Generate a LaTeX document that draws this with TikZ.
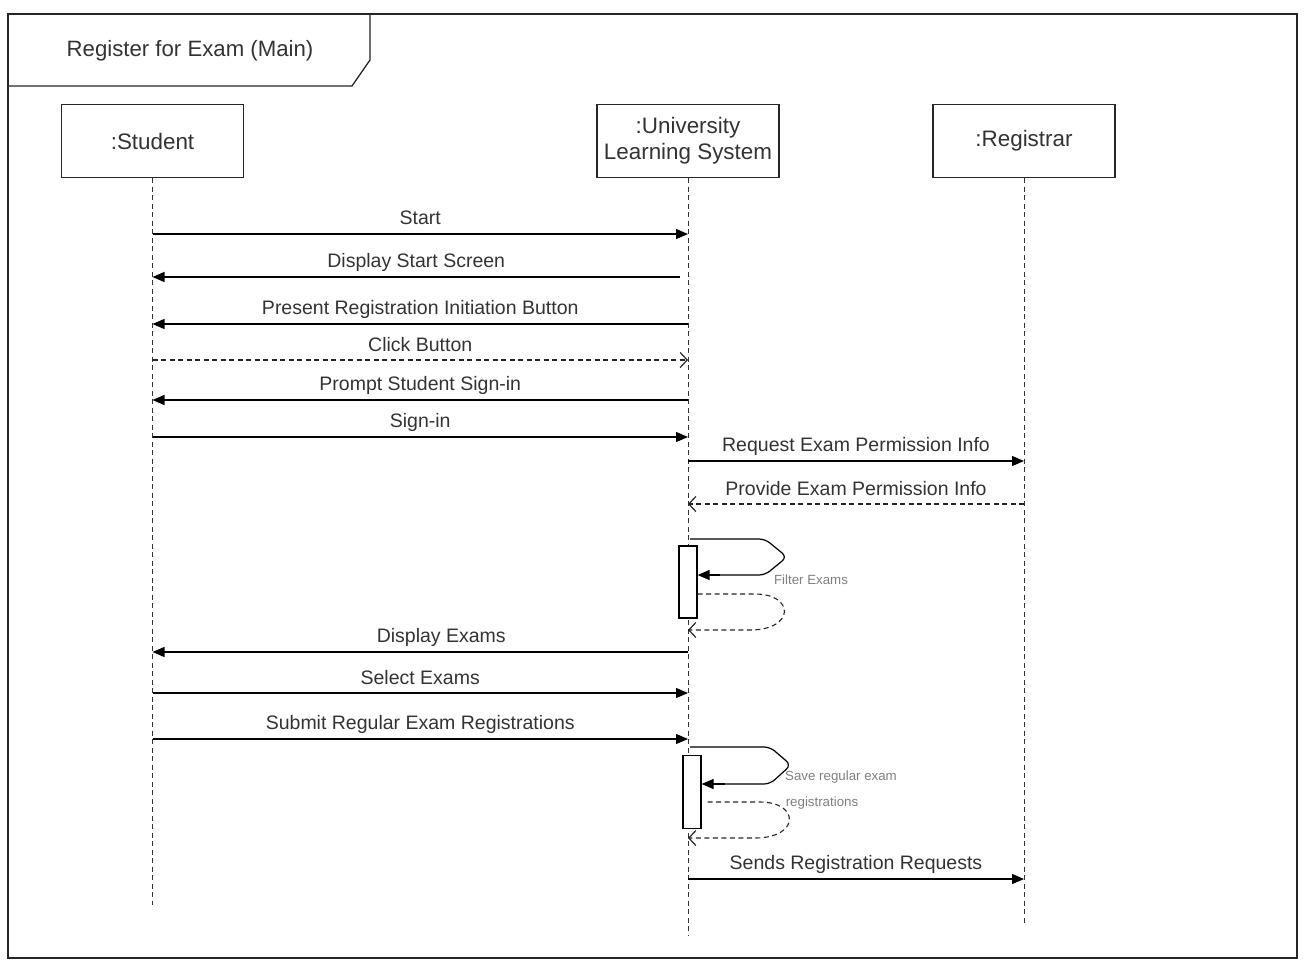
\documentclass[tikz,border=0pt]{standalone}
\usepackage{fontspec}
\setmainfont{Liberation Sans}
\usetikzlibrary{arrows.meta}
\definecolor{txt}{HTML}{333333}
\tikzset{
  lbl/.style={text=txt, font=\fontsize{19.5}{22}\selectfont, inner sep=0pt},
  small/.style={text=black!50, font=\fontsize{13.3}{15}\selectfont, inner sep=0pt},
  head/.style={draw=black!85, line width=1.3pt, minimum width=182pt, minimum height=73pt, text=txt, font=\fontsize{22.4}{26}\selectfont, align=center, inner sep=0pt},
  life/.style={draw=black!80, line width=1pt, dash pattern=on 5pt off 3.5pt},
  msg/.style={draw=black, line width=1.2pt, -{Triangle[length=12pt,width=10pt]}},
  ret/.style={draw=black!85, line width=1.1pt, dash pattern=on 5pt off 3.5pt, -{Straight Barb[length=7pt,width=15pt,line width=1.2pt]}},
  act/.style={draw=black, line width=1.2pt, fill=white},
}
\begin{document}
\begin{tikzpicture}[x=1pt,y=-1pt]
\useasboundingbox (0,0) rectangle (1312,967);
% frame
\draw[line width=1.5pt, draw=black!85] (8,14) rectangle (1297,958);
\draw[line width=1.3pt, draw=black!85] (8,86) -- (352,86) -- (370,60) -- (370,14);
\node[lbl, font=\fontsize{22.2}{26}\selectfont] (title) at (190,51) {Register for Exam (Main)};
% heads
\node[head] (st) at (152.5,141) {:Student};
\node[head] (uls) at (688,141) {:University\\Learning System};
\node[head] (reg) at (1024,141) {:Registrar};
% lifelines
\coordinate (stEnd) at (152.5,905);
\coordinate (ulsEnd) at (688,935);
\coordinate (regEnd) at (1024,925);
\draw[life] (st.south) -- (stEnd);
\draw[life] (uls.south) -- (ulsEnd);
\draw[life] (reg.south) -- (regEnd);
% messages
\draw[msg] (st |- 0,234) -- node[lbl, yshift=16pt] (m1) {Start} (uls |- 0,234);
\draw[msg] ([xshift=-8pt]uls |- 0,277) -- node[lbl, yshift=15pt] (m2) {Display Start Screen} (st |- 0,277);
\draw[msg] (uls |- 0,324) -- node[lbl, yshift=15pt] (m3) {Present Registration Initiation Button} (st |- 0,324);
\draw[ret] (st |- 0,360) -- node[lbl, yshift=15pt] (m4) {Click Button} (uls |- 0,360);
\draw[msg] (uls |- 0,400) -- node[lbl, yshift=15pt] (m5) {Prompt Student Sign-in} (st |- 0,400);
\draw[msg] (st |- 0,437) -- node[lbl, yshift=15pt] (m6) {Sign-in} (uls |- 0,437);
\draw[msg] (uls |- 0,461) -- node[lbl, yshift=15pt] (m7) {Request Exam Permission Info} (reg |- 0,461);
\draw[ret] (reg |- 0,504) -- node[lbl, yshift=15pt] (m8) {Provide Exam Permission Info} (uls |- 0,504);
% activation 1
\node[act, minimum width=18pt, minimum height=72pt, inner sep=0pt] (a1) at (688,582) {};
\coordinate (s1a) at (690,539);
\draw[line width=1.2pt, rounded corners=6pt] (s1a) -- (765,539) -- (787,557) -- (765,575) -- (720,575);
\draw[msg] (720,575) -- (a1.east |- 0,575);
\node[small] (f1) at (811,580) {Filter Exams};
\draw[ret] (a1.east |- 0,594) -- (755,594) .. controls (795,594) and (795,630) .. (750,630) -- (uls |- 0,630);
% messages
\draw[msg] (uls |- 0,652) -- node[lbl, yshift=15pt, xshift=21pt] (m9) {Display Exams} (st |- 0,652);
\draw[msg] (st |- 0,693) -- node[lbl, yshift=15pt] (m10) {Select Exams} (uls |- 0,693);
\draw[msg] (st |- 0,739) -- node[lbl, yshift=15pt] (m11) {Submit Regular Exam Registrations} (uls |- 0,739);
% activation 2
\node[act, minimum width=18pt, minimum height=73pt, inner sep=0pt] (a2) at (692,792) {};
\coordinate (s2a) at (690,747);
\draw[line width=1.2pt, rounded corners=6pt] (s2a) -- (770,747) -- (791,765) -- (770,784) -- (725,784);
\draw[msg] (725,784) -- (a2.east |- 0,784);
\node[small] (f2) at (841,777) {Save regular exam};
\node[small] (f3) at (822,803) {registrations};
\draw[ret] ([xshift=6pt]a2.east |- 0,802) -- (760,802) .. controls (800,802) and (800,838) .. (755,838) -- (uls |- 0,838);
\draw[msg] (uls |- 0,879) -- node[lbl, yshift=15pt] (m12) {Sends Registration Requests} (reg |- 0,879);
\end{tikzpicture}
\end{document}
